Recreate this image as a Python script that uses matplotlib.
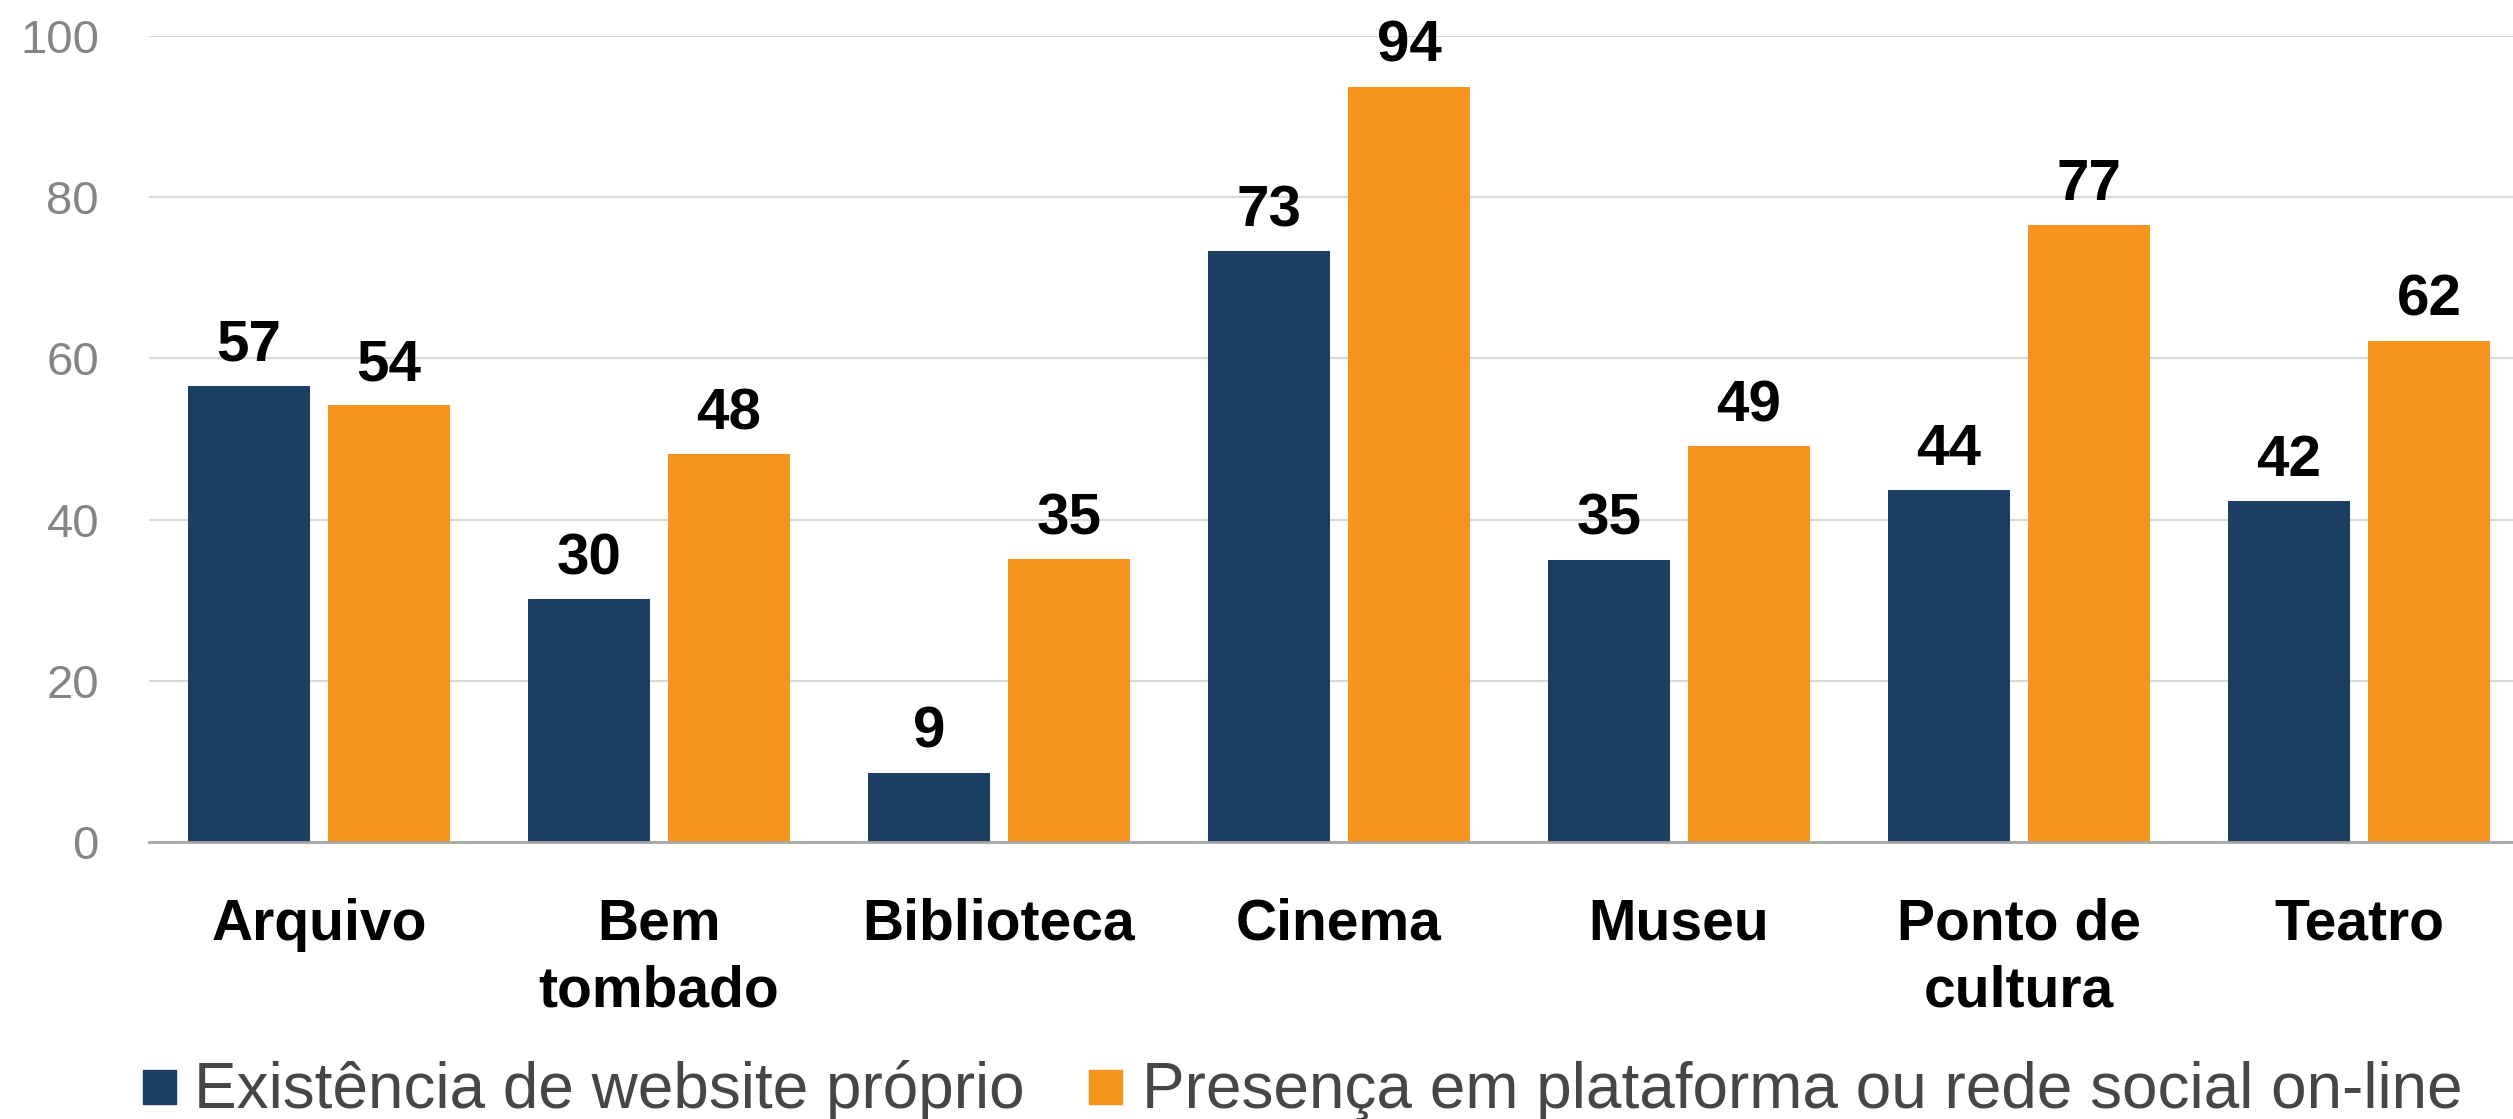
import numpy as np
import matplotlib
matplotlib.use('Agg')
import matplotlib.pyplot as plt
from matplotlib.patches import Rectangle
from matplotlib import font_manager

categories = ['Arquivo', 'Bem\ntombado', 'Biblioteca', 'Cinema', 'Museu', 'Ponto de\ncultura', 'Teatro']
website = [56.6, 30.1, 8.6, 73.3, 35.0, 43.7, 42.3]
social = [54.2, 48.1, 35.1, 93.7, 49.1, 76.6, 62.2]
series_names = ['Existência de website próprio', 'Presença em plataforma ou rede social on-line']
yticks = [0, 20, 40, 60, 80, 100]

c_blue = '#1b3f62'
c_orange = '#f7941e'

names = {f.name for f in font_manager.fontManager.ttflist}
narrow = 'Liberation Sans Narrow' if 'Liberation Sans Narrow' in names else 'Liberation Sans'

W, H = 2513, 1119
fig = plt.figure(figsize=(W / 100, H / 100), dpi=100)
ax = fig.add_axes([149 / W, 1 - 842 / H, 1 - 149 / W, (842 - 36) / H])

x = np.arange(len(categories))
bw = 0.359
off = 0.206
b1 = ax.bar(x - off, website, bw, color=c_blue, zorder=3)
b2 = ax.bar(x + off, social, bw, color=c_orange, zorder=3)

for bars, vals in [(b1, website), (b2, social)]:
    for r, v in zip(bars, vals):
        ax.annotate(f'{v:.0f}', (r.get_x() + r.get_width() / 2, v),
                    xytext=(0, 18), textcoords='offset points',
                    ha='center', va='baseline', fontsize=42,
                    fontweight='bold', family=narrow, color='black',
                    annotation_clip=False)

ax.set_ylim(0, 100)
ax.set_xlim(-0.5, (W - 319) / 340)
ax.set_yticks(yticks)
ax.set_yticklabels([str(t) for t in yticks], fontsize=34, color='#858585',
                   family='Liberation Sans')
ax.set_xticks(x)
ax.set_xticklabels(categories, fontsize=41, fontweight='bold', family=narrow,
                   linespacing=1.32)
ax.tick_params(axis='y', length=0, pad=36)
ax.tick_params(axis='x', length=0, pad=40)
ax.grid(axis='y', color='#d9d9d9', linewidth=1.6, zorder=0)
for s in ['top', 'right', 'left']:
    ax.spines[s].set_visible(False)
ax.spines['bottom'].set_color('#a6a6a6')
ax.spines['bottom'].set_linewidth(2)
ax.spines['bottom'].set_zorder(4)

# legend
leg_y = 1 - 1108 / H
for sq_x, txt_x, col, name in [(143, 194, c_blue, series_names[0]),
                               (1089, 1142, c_orange, series_names[1])]:
    fig.patches.append(Rectangle((sq_x / W, 1 - 1104 / H), 33 / W, 34 / H,
                                 transform=fig.transFigure, color=col))
    fig.text(txt_x / W, leg_y, name, fontsize=46, family=narrow,
             color='#464649', va='baseline', ha='left')

fig.savefig('out.png', dpi=100)
